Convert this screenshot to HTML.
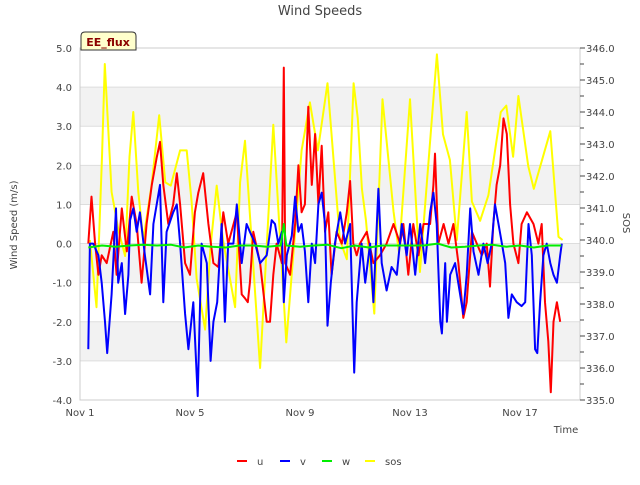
<!DOCTYPE html>
<html><head><meta charset="utf-8"><style>
body{margin:0;background:#fff;font-family:"Liberation Sans","DejaVu Sans",sans-serif}
text{font-family:"DejaVu Sans","Liberation Sans",sans-serif}
</style></head><body>
<svg id="chart" width="640" height="480" xmlns="http://www.w3.org/2000/svg">
<text x="320" y="15" font-size="13" fill="#444" text-anchor="middle">Wind Speeds</text>
<g id="bands"></g><g id="grid"></g>
<rect x="80" y="48" width="500" height="352" fill="none" stroke="#ccc"/>
<g id="series"></g><g id="axes"></g>
<text transform="translate(17,225) rotate(-90)" font-size="10" fill="#444" text-anchor="middle">Wind Speed (m/s)</text>
<text transform="translate(623,223) rotate(90)" font-size="10" fill="#444" text-anchor="middle">SOS</text>
<text x="566" y="433" font-size="10" fill="#444" text-anchor="middle">Time</text>
<g>
<path d="M81,50 L81,36 Q81,32 85,32 L132,32 Q136,32 136,36 L136,50 Z" fill="#ffffcc" stroke="#333"/>
<text x="108" y="46" font-size="11" font-weight="bold" fill="#8b0000" text-anchor="middle">EE_flux</text></g>
<g id="legend"></g>
</svg>
<script>
const uDays=[1.3,1.42,1.55,1.67,1.79,1.97,2.21,2.33,2.52,2.7,2.88,3.06,3.24,3.42,3.61,3.79,3.91,4.03,4.21,4.39,4.52,4.64,4.82,5.0,5.18,5.3,5.48,5.67,5.85,6.03,6.21,6.39,6.7,6.88,7.0,7.1,7.18,7.3,7.55,7.79,7.91,8.03,8.15,8.34,8.41,8.46,8.64,8.82,8.94,9.06,9.18,9.3,9.43,9.55,9.67,9.79,9.91,10.03,10.15,10.33,10.52,10.7,10.82,10.94,11.06,11.18,11.43,11.67,11.91,12.15,12.4,12.64,12.76,12.94,13.12,13.31,13.49,13.73,13.85,13.91,14.03,14.22,14.4,14.58,14.76,14.94,15.06,15.25,15.43,15.61,15.79,15.91,16.03,16.15,16.28,16.4,16.52,16.64,16.76,16.94,17.06,17.25,17.49,17.67,17.79,17.91,18.03,18.12,18.22,18.34,18.46];
const uVals=[0,1.2,0,-0.8,-0.3,-0.5,0.3,-0.8,0.9,-0.2,1.2,0.5,-1.0,0.5,1.5,2.2,2.6,1.5,0.5,1.0,1.8,1.0,-0.5,-0.8,0.8,1.3,1.8,0.5,-0.5,-0.6,0.8,0,0.8,-1.3,-1.4,-1.5,-1.0,0.3,-0.5,-2.0,-2.0,-0.8,0,-0.5,4.5,-0.5,-0.8,0.5,2.0,0.8,1.0,3.5,1.5,2.8,1.0,2.5,0.3,0.8,-0.8,0.3,0,0.8,1.6,0,-0.3,0,0.3,-0.5,-0.3,0,0.5,0,0.5,-0.8,0.5,-0.3,0.5,0.5,1.5,2.3,0,0.5,0,0.5,-0.5,-1.9,-1.5,0.3,0,-0.3,0,-1.1,0.5,1.5,2.0,3.2,2.8,1.0,0,-0.5,0.5,0.8,0.5,0,0.5,-1.5,-2.5,-3.8,-2.0,-1.5,-2.0];
const vDays=[1.3,1.36,1.48,1.67,1.79,1.91,1.99,2.15,2.31,2.39,2.52,2.64,2.76,2.82,2.94,3.06,3.18,3.36,3.55,3.67,3.79,3.91,4.03,4.15,4.39,4.52,4.64,4.82,4.94,5.12,5.28,5.42,5.61,5.75,5.85,5.99,6.15,6.27,6.39,6.58,6.7,6.88,7.06,7.18,7.37,7.55,7.79,7.97,8.09,8.21,8.34,8.41,8.52,8.7,8.82,8.94,9.06,9.18,9.3,9.43,9.55,9.67,9.79,9.91,10.0,10.12,10.27,10.46,10.64,10.82,10.97,11.06,11.24,11.37,11.55,11.67,11.85,11.97,12.15,12.33,12.52,12.7,12.88,13.0,13.19,13.37,13.55,13.73,13.85,13.97,14.1,14.16,14.28,14.34,14.46,14.64,14.82,14.94,15.06,15.19,15.31,15.49,15.67,15.82,15.97,16.09,16.22,16.34,16.46,16.58,16.7,16.88,17.06,17.19,17.31,17.43,17.55,17.63,17.73,17.85,17.97,18.1,18.22,18.34,18.46,18.52];
const vVals=[-2.7,0,0,-0.3,-1.0,-2.0,-2.8,-1.3,0.9,-1.0,-0.5,-1.8,-0.8,0.6,0.9,0.3,0.8,-0.3,-1.3,0.5,1.0,1.5,-1.5,0.3,0.8,1.0,0,-1.8,-2.7,-1.5,-3.9,0,-0.5,-3.0,-2.0,-1.5,0.5,-2.0,0,0,1.0,-0.5,0.5,0.3,0,-0.5,-0.3,0.6,0.5,0,0.3,-1.5,-0.3,0.2,1.2,0.3,0.5,-0.2,-1.5,0,-0.5,1.0,1.3,0.5,-2.1,-1.0,0,0.8,0,0.5,-3.3,-1.5,0,-1.0,0,-1.5,1.4,-0.5,-1.2,-0.6,-0.8,0.5,-0.3,0.5,-0.8,0.5,-0.5,0.8,1.3,0.5,-2.0,-2.3,-0.5,-2.0,-0.8,-0.5,-1.3,-1.8,-0.8,0.9,-0.2,-0.8,0,-0.5,0,1.0,0.5,0,-0.5,-1.9,-1.3,-1.5,-1.6,-1.5,0.5,-0.3,-2.7,-2.8,-1.5,-0.3,0,-0.5,-0.8,-1.0,-0.3,0];
const wDays=[1.3,1.8,2.3,2.8,3.3,3.8,4.3,4.8,5.3,5.8,6.3,6.8,7.3,7.8,8.3,8.41,8.5,9.0,9.5,10.0,10.5,11.0,11.5,12.0,12.5,13.0,13.5,14.0,14.5,15.0,15.5,16.0,16.5,17.0,17.5,18.0,18.5];
const wVals=[-0.1,-0.05,-0.08,-0.05,-0.03,-0.05,-0.03,-0.1,-0.05,-0.08,-0.1,-0.05,-0.05,-0.08,-0.05,0.5,-0.05,-0.08,-0.05,-0.03,-0.12,-0.05,-0.1,-0.05,-0.05,-0.05,-0.05,0.0,-0.1,-0.08,-0.05,-0.03,-0.08,-0.05,-0.1,-0.05,-0.05];
const sosDays=[1.36,1.6,1.8,1.9,2.15,2.4,2.64,2.8,2.94,3.12,3.3,3.6,3.88,4.1,4.3,4.64,4.88,5.06,5.24,5.55,5.75,5.97,6.2,6.64,6.82,7.0,7.55,8.03,8.5,9.06,9.36,9.65,10.0,10.45,10.7,10.95,11.1,11.25,11.4,11.7,12.0,12.4,12.6,13.0,13.36,13.98,14.2,14.45,14.7,15.06,15.25,15.55,15.85,16.3,16.5,16.75,16.94,17.3,17.5,18.1,18.4,18.55];
const sosVals=[340.0,337.9,342.6,345.5,341.5,340.3,339.5,342.6,344.0,341.5,340.0,341.7,343.9,341.8,341.7,342.8,342.8,341.2,338.8,337.2,339.8,341.7,340.0,337.9,341.8,343.1,336.0,343.6,336.8,342.8,344.3,342.8,344.9,340.0,339.4,344.9,343.8,341.6,340.6,337.7,344.4,340.9,339.6,344.4,339.0,345.8,343.3,342.5,340.0,344.0,341.2,340.6,341.4,344.0,344.2,342.6,344.5,342.3,341.6,343.4,340.1,340.0];
const leftTicks=[5,4,3,2,1,0,-1,-2,-3,-4];
const rightTicks=[346,345,344,343,342,341,340,339,338,337,336,335];
const xTickDays=[1,5,9,13,17];
const xTickLabels=["Nov 1","Nov 5","Nov 9","Nov 13","Nov 17"];

const NS="http://www.w3.org/2000/svg";
const X=d=>80+(d-1)*27.5;
const Y=v=>48+(5-v)*352/9;
const YR=s=>48+(346-s)*32;
function mk(tag,attrs,parent){const e=document.createElementNS(NS,tag);for(const k in attrs)e.setAttribute(k,attrs[k]);document.getElementById(parent).appendChild(e);return e;}
// bands
[[4,3],[2,1],[0,-1],[-2,-3]].forEach(b=>{
 const r=mk('rect',{x:80,y:Y(b[0]),width:500,height:Y(b[1])-Y(b[0]),fill:'#f2f2f2'},'bands');
 
 
});
leftTicks.forEach(v=>{
 const l=mk('line',{x1:80,x2:580,y1:Y(v),y2:Y(v),stroke:'#ddd'},'grid');
 
 
 const t=mk('text',{x:72,y:Y(v)+4,'font-size':10,fill:'#444','text-anchor':'end'},'axes');
 t.textContent=v.toFixed(1);
 
 
});
rightTicks.forEach(s=>{
 mk('line',{x1:580,x2:585,y1:YR(s),y2:YR(s),stroke:'#444'},'axes');
 if(s>335) mk('line',{x1:580,x2:584,y1:YR(s-0.5),y2:YR(s-0.5),stroke:'#444'},'axes');
 const t=mk('text',{x:586,y:YR(s)+4,'font-size':10,fill:'#444'},'axes');
 t.textContent=s.toFixed(1);
 
 
});
xTickDays.forEach((d,i)=>{
 const t=mk('text',{x:X(d),y:416,'font-size':10,fill:'#444','text-anchor':'middle'},'axes');
 t.textContent=xTickLabels[i];
 
 
});
function line(days,vals,yf,color,name){
 const p=mk('polyline',{points:days.map((d,i)=>X(d).toFixed(1)+','+yf(vals[i]).toFixed(1)).join(' '),fill:'none',stroke:color,'stroke-width':2,'stroke-linejoin':'round'},'series');
 
 
}
line(sosDays,sosVals,YR,'#ffff00','series-sos');
line(uDays,uVals,Y,'#ff0000','series-u');
line(vDays,vVals,Y,'#0000ff','series-v');
line(wDays,wVals,Y,'#00ee00','series-w');
[['u','#ff0000',237],['v','#0000ff',280],['w','#00ee00',322],['sos','#ffff00',365]].forEach(e=>{
 const g=mk('g',{},'legend');
 
 
 const l=document.createElementNS(NS,'line');
 [['x1',e[2]],['x2',e[2]+10],['y1',461],['y2',461],['stroke',e[1]],['stroke-width',2]].forEach(a=>l.setAttribute(a[0],a[1]));
 g.appendChild(l);
 const t=document.createElementNS(NS,'text');
 [['x',e[2]+20],['y',465],['font-size',10],['fill','#444']].forEach(a=>t.setAttribute(a[0],a[1]));
 t.textContent=e[0];g.appendChild(t);
});
</script>
</body></html>
